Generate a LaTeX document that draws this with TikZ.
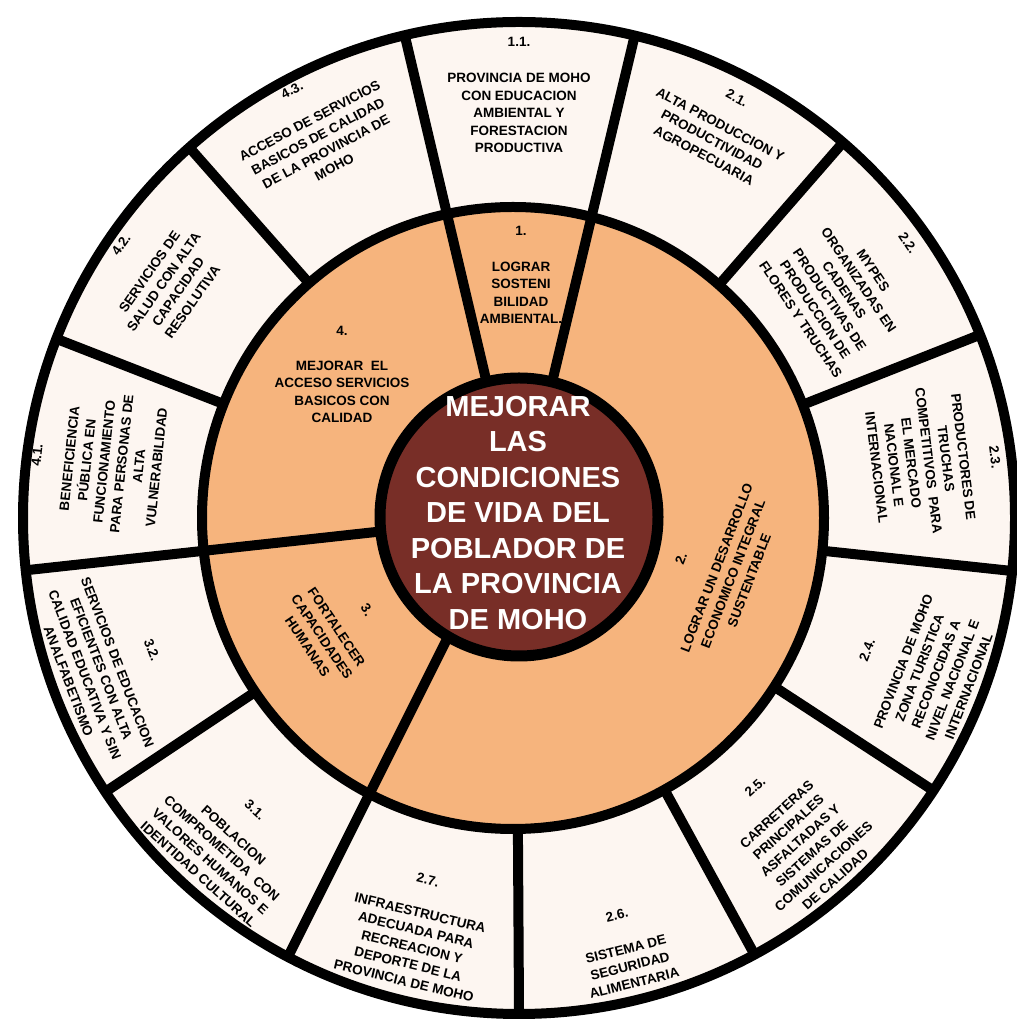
\documentclass[tikz,border=0pt]{standalone}
\usepackage{fontspec}
\setmainfont{Liberation Sans}
\definecolor{cream}{HTML}{FDF6F1}
\definecolor{ochre}{HTML}{F6B47D}
\definecolor{maroon}{HTML}{782E27}
\begin{document}
\begin{tikzpicture}[x=1pt,y=1pt,
  lbl/.style={font=\bfseries\fontsize{13.5}{17.5}\selectfont, align=center, inner sep=0pt},
  num/.style={font=\bfseries\fontsize{13.5}{17.5}\selectfont, inner sep=0pt},
  spoke/.style={line width=10pt, line cap=butt},
  ring/.style={line width=10pt},
  ]
\useasboundingbox (0,0) rectangle (1017,1023);
\coordinate (Co) at (519,505);   % outer ring centre
\coordinate (Cm) at (513,505);   % middle ring centre
\coordinate (Ci) at (519,506);   % inner disc centre
\coordinate (Cs) at (516,505);   % spoke centre
% outer ring background
\fill[cream] (Co) circle[radius=496pt];
% short spokes (outer ring only)
\begin{scope}
  \clip (Co) circle[radius=496pt];
  \begin{scope}[shift={(Cs)}]
    \foreach \a in {48.95,21.55,-6.1,-33.15,-61.35,-89.65,-146.3,158.7,131.4}
      \draw[spoke] (\a:250pt) -- (\a:530pt);
  \end{scope}
\end{scope}
% middle ring
\fill[ochre] (Cm) circle[radius=311pt];
% long dividers (middle ring + outer ring)
\begin{scope}
  \clip (Co) circle[radius=496pt];
  \begin{scope}[shift={(Cs)}]
    \draw[spoke] (102.2:139pt) -- (103.0:530pt);
    \draw[spoke] (75.1:139pt) -- (76.2:530pt);
    \draw[spoke] (-174.3:139pt) -- (-173.9:530pt);
    \draw[spoke] (-119.7:139pt) -- (-117.4:530pt);
  \end{scope}
\end{scope}
\draw[ring] (Cm) circle[radius=311pt];
\filldraw[fill=maroon, draw=black, line width=11pt] (Ci) circle[radius=139pt];
\draw[ring] (Co) circle[radius=496pt];

% centre
\node[font=\bfseries\fontsize{29}{35.5}\selectfont, text=white, align=center, inner sep=0pt] (core) at (518,510)
  {MEJORAR\\LAS\\CONDICIONES\\DE VIDA DEL\\POBLADOR DE\\LA PROVINCIA\\DE MOHO};

% middle ring
\node[num] (n1) at (521,792) {1.};
\node[lbl] (t1) at (521,730) {LOGRAR\\SOSTENI\\BILIDAD\\AMBIENTAL.};
\node[num] (n4) at (342,692) {4.};
\node[lbl] (t4) at (342,631) {MEJORAR~~EL\\ACCESO SERVICIOS\\BASICOS CON\\CALIDAD};
\node[num, rotate=-56] (n3) at (367,413) {3.};
\node[lbl, rotate=-56] (t3) at (322,386) {FORTALECER\\CAPACIDADES\\HUMANAS};
\node[num, rotate=69] (n2) at (681,464) {2.};
\node[lbl, rotate=69] (t2) at (733,449) {LOGRAR UN DESARROLLO\\ECONOMICO INTEGRAL\\SUSTENTABLE};

% outer ring
\node[num] (n11) at (519,981) {1.1.};
\node[lbl] (t11) at (519,910) {PROVINCIA DE MOHO\\CON EDUCACION\\AMBIENTAL Y\\FORESTACION\\PRODUCTIVA};
\node[num, rotate=-28] (n21) at (737,925) {2.1.};
\node[lbl, rotate=-28] (t21) at (712,883) {ALTA PRODUCCION Y\\PRODUCTIVIDAD\\AGROPECUARIA};
\node[num, rotate=-56] (n22) at (908,780) {2.2.};
\node[lbl, rotate=-56] (t22) at (837,728) {MYPES\\ORGANIZADAS EN\\CADENAS\\PRODUCTIVAS DE\\PRODUCCION DE\\FLORES Y TRUCHAS};
\node[num, rotate=-83] (n23) at (995,566) {2.3.};
\node[lbl, rotate=-83] (t23) at (920,561) {PRODUCTORES DE\\TRUCHAS\\COMPETITIVOS~~PARA\\EL MERCADO\\NACIONAL E\\INTERNACIONAL};
\node[num, rotate=69] (n24) at (867,373) {2.4.};
\node[lbl, rotate=69] (t24) at (936,349) {PROVINCIA DE MOHO\\ZONA TURISTICA\\RECONOCIDAS A\\NIVEL NACIONAL E\\INTERNACIONAL};
\node[num, rotate=42] (n25) at (755,236) {2.5.};
\node[lbl, rotate=42] (t25) at (806,176) {CARRETERAS\\PRINCIPALES\\ASFALTADAS Y\\SISTEMAS DE\\COMUNICACIONES\\DE CALIDAD};
\node[num, rotate=14] (n26) at (617,108) {2.6.};
\node[lbl, rotate=14] (t26) at (630,57) {SISTEMA DE\\SEGURIDAD\\ALIMENTARIA};
\node[num, rotate=-13.5] (n27) at (428,143) {2.7.};
\node[lbl, rotate=-13.5] (t27) at (412,76) {INFRAESTRUCTURA\\ADECUADA PARA\\RECREACION Y\\DEPORTE DE LA\\PROVINCIA DE MOHO};
\node[num, rotate=-42] (n31) at (255,213) {3.1.};
\node[lbl, rotate=-42] (t31) at (216,168) {POBLACION\\COMPROMETIDA~~CON\\VALORES HUMANOS E\\IDENTIDAD CULTURAL};
\node[num, rotate=-69] (n32) at (152,373) {3.2.};
\node[lbl, rotate=-69] (t32) at (93,351) {SERVICIOS DE EDUCACION\\EFICIENTES CON ALTA\\CALIDAD EDUCATIVA Y SIN\\ANALFABETISMO};
\node[num, rotate=84] (n41) at (37,568) {4.1.};
\node[lbl, rotate=84] (t41) at (113,560) {BENEFICIENCIA\\PÚBLICA EN\\FUNCIONAMIENTO\\PARA PERSONAS DE\\ALTA\\VULNERABILIDAD};
\node[num, rotate=55] (n42) at (121,778) {4.2.};
\node[lbl, rotate=55] (t42) at (171,736) {SERVICIOS DE\\SALUD CON ALTA\\CAPACIDAD\\RESOLUTIVA};
\node[num, rotate=28] (n43) at (292,933) {4.3.};
\node[lbl, rotate=28] (t43) at (322,879) {ACCESO DE SERVICIOS\\BASICOS DE CALIDAD\\DE LA PROVINCIA DE\\MOHO};
\end{tikzpicture}
\end{document}
